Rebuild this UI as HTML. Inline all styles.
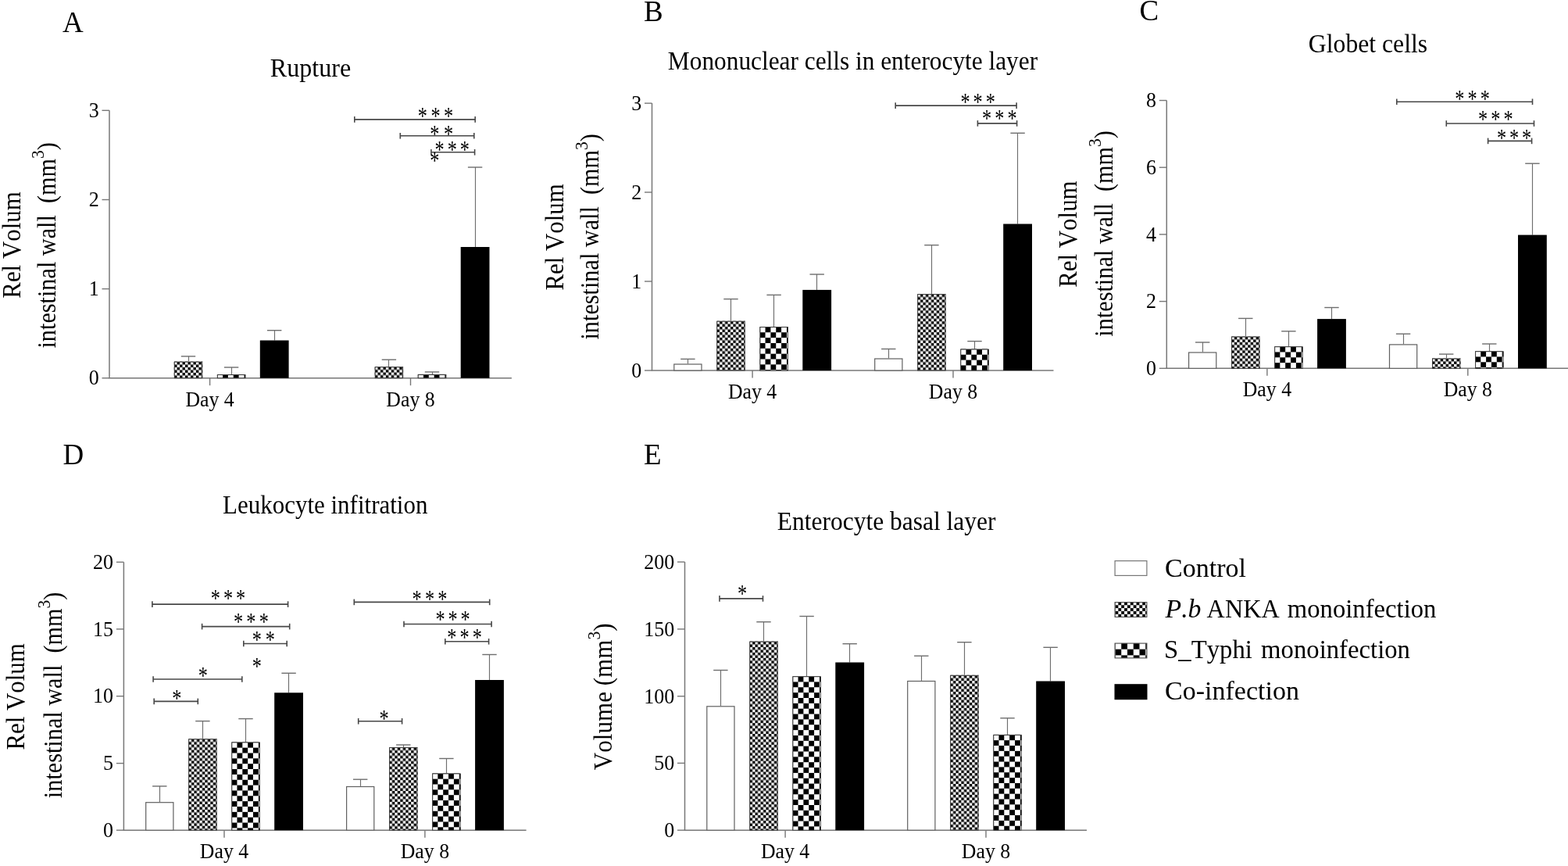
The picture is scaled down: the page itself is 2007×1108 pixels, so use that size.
<!DOCTYPE html>
<html><head><meta charset="utf-8"><title>Figure</title>
<style>html,body{margin:0;padding:0;background:#fff;}svg{display:block;}text{font-kerning:none;}</style>
</head><body>
<svg width="2007" height="1108" viewBox="0 0 2007 1108" font-family='"Liberation Serif", "Times New Roman", serif' fill="#000"><defs><pattern id="p1" patternUnits="userSpaceOnUse" x="223.10" y="463.00" width="6.940" height="6.940"><rect width="6.940" height="6.940" fill="#fff"/><rect x="3.470" width="3.470" height="3.470" fill="#000"/><rect y="3.470" width="3.470" height="3.470" fill="#000"/></pattern><pattern id="p2" patternUnits="userSpaceOnUse" x="278.20" y="479.40" width="13.700" height="13.700"><rect width="13.700" height="13.700" fill="#fff"/><rect x="6.850" width="6.850" height="6.850" fill="#000"/><rect y="6.850" width="6.850" height="6.850" fill="#000"/></pattern><pattern id="p3" patternUnits="userSpaceOnUse" x="480.00" y="469.60" width="6.940" height="6.940"><rect width="6.940" height="6.940" fill="#fff"/><rect x="3.470" width="3.470" height="3.470" fill="#000"/><rect y="3.470" width="3.470" height="3.470" fill="#000"/></pattern><pattern id="p4" patternUnits="userSpaceOnUse" x="535.10" y="479.30" width="13.700" height="13.700"><rect width="13.700" height="13.700" fill="#fff"/><rect x="6.850" width="6.850" height="6.850" fill="#000"/><rect y="6.850" width="6.850" height="6.850" fill="#000"/></pattern><pattern id="p5" patternUnits="userSpaceOnUse" x="917.60" y="411.10" width="6.940" height="6.940"><rect width="6.940" height="6.940" fill="#fff"/><rect x="3.470" width="3.470" height="3.470" fill="#000"/><rect y="3.470" width="3.470" height="3.470" fill="#000"/></pattern><pattern id="p6" patternUnits="userSpaceOnUse" x="972.70" y="418.40" width="13.700" height="13.700"><rect width="13.700" height="13.700" fill="#fff"/><rect x="6.850" width="6.850" height="6.850" fill="#000"/><rect y="6.850" width="6.850" height="6.850" fill="#000"/></pattern><pattern id="p7" patternUnits="userSpaceOnUse" x="1174.50" y="376.50" width="6.940" height="6.940"><rect width="6.940" height="6.940" fill="#fff"/><rect x="3.470" width="3.470" height="3.470" fill="#000"/><rect y="3.470" width="3.470" height="3.470" fill="#000"/></pattern><pattern id="p8" patternUnits="userSpaceOnUse" x="1229.60" y="446.90" width="13.700" height="13.700"><rect width="13.700" height="13.700" fill="#fff"/><rect x="6.850" width="6.850" height="6.850" fill="#000"/><rect y="6.850" width="6.850" height="6.850" fill="#000"/></pattern><pattern id="p9" patternUnits="userSpaceOnUse" x="1576.40" y="430.90" width="6.940" height="6.940"><rect width="6.940" height="6.940" fill="#fff"/><rect x="3.470" width="3.470" height="3.470" fill="#000"/><rect y="3.470" width="3.470" height="3.470" fill="#000"/></pattern><pattern id="p10" patternUnits="userSpaceOnUse" x="1631.50" y="443.60" width="13.700" height="13.700"><rect width="13.700" height="13.700" fill="#fff"/><rect x="6.850" width="6.850" height="6.850" fill="#000"/><rect y="6.850" width="6.850" height="6.850" fill="#000"/></pattern><pattern id="p11" patternUnits="userSpaceOnUse" x="1833.30" y="458.90" width="6.940" height="6.940"><rect width="6.940" height="6.940" fill="#fff"/><rect x="3.470" width="3.470" height="3.470" fill="#000"/><rect y="3.470" width="3.470" height="3.470" fill="#000"/></pattern><pattern id="p12" patternUnits="userSpaceOnUse" x="1888.40" y="449.60" width="13.700" height="13.700"><rect width="13.700" height="13.700" fill="#fff"/><rect x="6.850" width="6.850" height="6.850" fill="#000"/><rect y="6.850" width="6.850" height="6.850" fill="#000"/></pattern><pattern id="p13" patternUnits="userSpaceOnUse" x="241.50" y="945.70" width="6.940" height="6.940"><rect width="6.940" height="6.940" fill="#fff"/><rect x="3.470" width="3.470" height="3.470" fill="#000"/><rect y="3.470" width="3.470" height="3.470" fill="#000"/></pattern><pattern id="p14" patternUnits="userSpaceOnUse" x="296.60" y="949.80" width="13.700" height="13.700"><rect width="13.700" height="13.700" fill="#fff"/><rect x="6.850" width="6.850" height="6.850" fill="#000"/><rect y="6.850" width="6.850" height="6.850" fill="#000"/></pattern><pattern id="p15" patternUnits="userSpaceOnUse" x="498.40" y="956.50" width="6.940" height="6.940"><rect width="6.940" height="6.940" fill="#fff"/><rect x="3.470" width="3.470" height="3.470" fill="#000"/><rect y="3.470" width="3.470" height="3.470" fill="#000"/></pattern><pattern id="p16" patternUnits="userSpaceOnUse" x="553.50" y="989.80" width="13.700" height="13.700"><rect width="13.700" height="13.700" fill="#fff"/><rect x="6.850" width="6.850" height="6.850" fill="#000"/><rect y="6.850" width="6.850" height="6.850" fill="#000"/></pattern><pattern id="p17" patternUnits="userSpaceOnUse" x="959.60" y="821.00" width="6.940" height="6.940"><rect width="6.940" height="6.940" fill="#fff"/><rect x="3.470" width="3.470" height="3.470" fill="#000"/><rect y="3.470" width="3.470" height="3.470" fill="#000"/></pattern><pattern id="p18" patternUnits="userSpaceOnUse" x="1014.70" y="865.60" width="13.700" height="13.700"><rect width="13.700" height="13.700" fill="#fff"/><rect x="6.850" width="6.850" height="6.850" fill="#000"/><rect y="6.850" width="6.850" height="6.850" fill="#000"/></pattern><pattern id="p19" patternUnits="userSpaceOnUse" x="1216.50" y="864.20" width="6.940" height="6.940"><rect width="6.940" height="6.940" fill="#fff"/><rect x="3.470" width="3.470" height="3.470" fill="#000"/><rect y="3.470" width="3.470" height="3.470" fill="#000"/></pattern><pattern id="p20" patternUnits="userSpaceOnUse" x="1271.60" y="940.30" width="13.700" height="13.700"><rect width="13.700" height="13.700" fill="#fff"/><rect x="6.850" width="6.850" height="6.850" fill="#000"/><rect y="6.850" width="6.850" height="6.850" fill="#000"/></pattern><pattern id="p21" patternUnits="userSpaceOnUse" x="1427.50" y="770.40" width="7.720" height="7.720"><rect width="7.720" height="7.720" fill="#fff"/><rect x="3.860" width="3.860" height="3.860" fill="#000"/><rect y="3.860" width="3.860" height="3.860" fill="#000"/></pattern><pattern id="p22" patternUnits="userSpaceOnUse" x="1427.50" y="822.90" width="15.500" height="15.500"><rect width="15.500" height="15.500" fill="#fff"/><rect x="7.750" width="7.750" height="7.750" fill="#000"/><rect y="7.750" width="7.750" height="7.750" fill="#000"/></pattern></defs><rect width="2007" height="1108" fill="#fff"/><line x1="140.00" y1="141.30" x2="140.00" y2="483.70" stroke="#777" stroke-width="1.5"/>
<line x1="139.25" y1="483.70" x2="654.90" y2="483.70" stroke="#777" stroke-width="1.6"/>
<line x1="130.50" y1="483.70" x2="140.00" y2="483.70" stroke="#777" stroke-width="1.4"/>
<text transform="translate(126.70,492.40) scale(1,1.04)" font-size="26" text-anchor="end">0</text>
<line x1="130.50" y1="369.60" x2="140.00" y2="369.60" stroke="#777" stroke-width="1.4"/>
<text transform="translate(126.70,378.30) scale(1,1.04)" font-size="26" text-anchor="end">1</text>
<line x1="130.50" y1="255.50" x2="140.00" y2="255.50" stroke="#777" stroke-width="1.4"/>
<text transform="translate(126.70,264.20) scale(1,1.04)" font-size="26" text-anchor="end">2</text>
<line x1="130.50" y1="141.30" x2="140.00" y2="141.30" stroke="#777" stroke-width="1.4"/>
<text transform="translate(126.70,150.00) scale(1,1.04)" font-size="26" text-anchor="end">3</text>
<line x1="268.60" y1="483.70" x2="268.60" y2="493.20" stroke="#777" stroke-width="1.4"/>
<text transform="translate(268.60,519.70) scale(1,1.04)" font-size="25.8" text-anchor="middle">Day 4</text>
<line x1="525.50" y1="483.70" x2="525.50" y2="493.20" stroke="#777" stroke-width="1.4"/>
<text transform="translate(525.50,519.70) scale(1,1.04)" font-size="25.8" text-anchor="middle">Day 8</text>
<line x1="241.50" y1="455.90" x2="241.50" y2="462.60" stroke="#6e6e6e" stroke-width="1.15"/>
<line x1="231.80" y1="455.90" x2="250.20" y2="455.90" stroke="#6e6e6e" stroke-width="1.4"/>
<rect x="222.80" y="462.60" width="36.40" height="21.10" fill="url(#p1)"/>
<rect x="223.30" y="463.10" width="35.40" height="20.60" fill="none" stroke="#3a3a3a" stroke-width="1"/>
<line x1="296.50" y1="470.00" x2="296.50" y2="479.00" stroke="#6e6e6e" stroke-width="1.15"/>
<line x1="286.90" y1="470.00" x2="305.30" y2="470.00" stroke="#6e6e6e" stroke-width="1.4"/>
<rect x="277.90" y="479.00" width="36.40" height="4.70" fill="url(#p2)"/>
<rect x="278.40" y="479.50" width="35.40" height="4.20" fill="none" stroke="#3a3a3a" stroke-width="1"/>
<line x1="351.50" y1="422.70" x2="351.50" y2="435.50" stroke="#6e6e6e" stroke-width="1.15"/>
<line x1="342.00" y1="422.70" x2="360.40" y2="422.70" stroke="#6e6e6e" stroke-width="1.4"/>
<rect x="332.80" y="435.50" width="36.80" height="48.20" fill="#000"/>
<line x1="497.50" y1="460.20" x2="497.50" y2="469.20" stroke="#6e6e6e" stroke-width="1.15"/>
<line x1="488.70" y1="460.20" x2="507.10" y2="460.20" stroke="#6e6e6e" stroke-width="1.4"/>
<rect x="479.70" y="469.20" width="36.40" height="14.50" fill="url(#p3)"/>
<rect x="480.20" y="469.70" width="35.40" height="14.00" fill="none" stroke="#3a3a3a" stroke-width="1"/>
<line x1="553.50" y1="475.90" x2="553.50" y2="478.90" stroke="#6e6e6e" stroke-width="1.15"/>
<line x1="543.80" y1="475.90" x2="562.20" y2="475.90" stroke="#6e6e6e" stroke-width="1.4"/>
<rect x="534.80" y="478.90" width="36.40" height="4.80" fill="url(#p4)"/>
<rect x="535.30" y="479.40" width="35.40" height="4.30" fill="none" stroke="#3a3a3a" stroke-width="1"/>
<line x1="608.50" y1="214.00" x2="608.50" y2="316.00" stroke="#6e6e6e" stroke-width="1.15"/>
<line x1="598.90" y1="214.00" x2="617.30" y2="214.00" stroke="#6e6e6e" stroke-width="1.4"/>
<rect x="589.70" y="316.00" width="36.80" height="167.70" fill="#000"/>
<line x1="453.80" y1="152.90" x2="608.20" y2="152.90" stroke="#474747" stroke-width="1.6"/>
<line x1="453.80" y1="149.10" x2="453.80" y2="156.70" stroke="#474747" stroke-width="1.6"/>
<line x1="608.20" y1="149.10" x2="608.20" y2="156.70" stroke="#474747" stroke-width="1.6"/>
<text transform="translate(540.80,159.38) scale(0.9,1.16)" font-size="27" text-anchor="middle">*</text>
<text transform="translate(557.45,159.38) scale(0.9,1.16)" font-size="27" text-anchor="middle">*</text>
<text transform="translate(574.10,159.38) scale(0.9,1.16)" font-size="27" text-anchor="middle">*</text>
<line x1="512.30" y1="173.80" x2="606.80" y2="173.80" stroke="#474747" stroke-width="1.6"/>
<line x1="512.30" y1="170.00" x2="512.30" y2="177.60" stroke="#474747" stroke-width="1.6"/>
<line x1="606.80" y1="170.00" x2="606.80" y2="177.60" stroke="#474747" stroke-width="1.6"/>
<text transform="translate(556.40,182.38) scale(0.9,1.16)" font-size="27" text-anchor="middle">*</text>
<text transform="translate(574.10,182.38) scale(0.9,1.16)" font-size="27" text-anchor="middle">*</text>
<line x1="551.90" y1="194.80" x2="607.60" y2="194.80" stroke="#474747" stroke-width="1.6"/>
<line x1="551.90" y1="191.00" x2="551.90" y2="198.60" stroke="#474747" stroke-width="1.6"/>
<line x1="607.60" y1="191.00" x2="607.60" y2="198.60" stroke="#474747" stroke-width="1.6"/>
<text transform="translate(562.50,201.58) scale(0.9,1.16)" font-size="27" text-anchor="middle">*</text>
<text transform="translate(578.70,201.58) scale(0.9,1.16)" font-size="27" text-anchor="middle">*</text>
<text transform="translate(594.90,201.58) scale(0.9,1.16)" font-size="27" text-anchor="middle">*</text>
<text transform="translate(556.40,216.28) scale(0.9,1.16)" font-size="27" text-anchor="middle">*</text>
<line x1="834.50" y1="132.10" x2="834.50" y2="474.00" stroke="#777" stroke-width="1.5"/>
<line x1="833.75" y1="474.00" x2="1348.50" y2="474.00" stroke="#777" stroke-width="1.6"/>
<line x1="825.00" y1="474.00" x2="834.50" y2="474.00" stroke="#777" stroke-width="1.4"/>
<text transform="translate(821.20,482.70) scale(1,1.04)" font-size="26" text-anchor="end">0</text>
<line x1="825.00" y1="360.00" x2="834.50" y2="360.00" stroke="#777" stroke-width="1.4"/>
<text transform="translate(821.20,368.70) scale(1,1.04)" font-size="26" text-anchor="end">1</text>
<line x1="825.00" y1="246.00" x2="834.50" y2="246.00" stroke="#777" stroke-width="1.4"/>
<text transform="translate(821.20,254.70) scale(1,1.04)" font-size="26" text-anchor="end">2</text>
<line x1="825.00" y1="132.10" x2="834.50" y2="132.10" stroke="#777" stroke-width="1.4"/>
<text transform="translate(821.20,140.80) scale(1,1.04)" font-size="26" text-anchor="end">3</text>
<line x1="963.10" y1="474.00" x2="963.10" y2="483.50" stroke="#777" stroke-width="1.4"/>
<text transform="translate(963.10,509.50) scale(1,1.04)" font-size="25.8" text-anchor="middle">Day 4</text>
<line x1="1220.00" y1="474.00" x2="1220.00" y2="483.50" stroke="#777" stroke-width="1.4"/>
<text transform="translate(1220.00,509.50) scale(1,1.04)" font-size="25.8" text-anchor="middle">Day 8</text>
<line x1="880.50" y1="459.40" x2="880.50" y2="465.40" stroke="#6e6e6e" stroke-width="1.15"/>
<line x1="871.20" y1="459.40" x2="889.60" y2="459.40" stroke="#6e6e6e" stroke-width="1.4"/>
<rect x="862.80" y="466.00" width="35.20" height="8.00" fill="#fff" stroke="#606060" stroke-width="1.2"/>
<line x1="935.50" y1="382.60" x2="935.50" y2="410.70" stroke="#6e6e6e" stroke-width="1.15"/>
<line x1="926.30" y1="382.60" x2="944.70" y2="382.60" stroke="#6e6e6e" stroke-width="1.4"/>
<rect x="917.30" y="410.70" width="36.40" height="63.30" fill="url(#p5)"/>
<rect x="917.80" y="411.20" width="35.40" height="62.80" fill="none" stroke="#3a3a3a" stroke-width="1"/>
<line x1="990.50" y1="377.40" x2="990.50" y2="418.00" stroke="#6e6e6e" stroke-width="1.15"/>
<line x1="981.40" y1="377.40" x2="999.80" y2="377.40" stroke="#6e6e6e" stroke-width="1.4"/>
<rect x="972.40" y="418.00" width="36.40" height="56.00" fill="url(#p6)"/>
<rect x="972.90" y="418.50" width="35.40" height="55.50" fill="none" stroke="#3a3a3a" stroke-width="1"/>
<line x1="1045.50" y1="351.00" x2="1045.50" y2="370.90" stroke="#6e6e6e" stroke-width="1.15"/>
<line x1="1036.50" y1="351.00" x2="1054.90" y2="351.00" stroke="#6e6e6e" stroke-width="1.4"/>
<rect x="1027.30" y="370.90" width="36.80" height="103.10" fill="#000"/>
<line x1="1137.50" y1="446.50" x2="1137.50" y2="458.40" stroke="#6e6e6e" stroke-width="1.15"/>
<line x1="1128.10" y1="446.50" x2="1146.50" y2="446.50" stroke="#6e6e6e" stroke-width="1.4"/>
<rect x="1119.70" y="459.00" width="35.20" height="15.00" fill="#fff" stroke="#606060" stroke-width="1.2"/>
<line x1="1192.50" y1="313.60" x2="1192.50" y2="376.10" stroke="#6e6e6e" stroke-width="1.15"/>
<line x1="1183.20" y1="313.60" x2="1201.60" y2="313.60" stroke="#6e6e6e" stroke-width="1.4"/>
<rect x="1174.20" y="376.10" width="36.40" height="97.90" fill="url(#p7)"/>
<rect x="1174.70" y="376.60" width="35.40" height="97.40" fill="none" stroke="#3a3a3a" stroke-width="1"/>
<line x1="1247.50" y1="436.60" x2="1247.50" y2="446.50" stroke="#6e6e6e" stroke-width="1.15"/>
<line x1="1238.30" y1="436.60" x2="1256.70" y2="436.60" stroke="#6e6e6e" stroke-width="1.4"/>
<rect x="1229.30" y="446.50" width="36.40" height="27.50" fill="url(#p8)"/>
<rect x="1229.80" y="447.00" width="35.40" height="27.00" fill="none" stroke="#3a3a3a" stroke-width="1"/>
<line x1="1302.50" y1="170.30" x2="1302.50" y2="286.50" stroke="#6e6e6e" stroke-width="1.15"/>
<line x1="1293.40" y1="170.30" x2="1311.80" y2="170.30" stroke="#6e6e6e" stroke-width="1.4"/>
<rect x="1284.20" y="286.50" width="36.80" height="187.50" fill="#000"/>
<line x1="1146.20" y1="135.10" x2="1301.10" y2="135.10" stroke="#474747" stroke-width="1.6"/>
<line x1="1146.20" y1="131.30" x2="1146.20" y2="138.90" stroke="#474747" stroke-width="1.6"/>
<line x1="1301.10" y1="131.30" x2="1301.10" y2="138.90" stroke="#474747" stroke-width="1.6"/>
<text transform="translate(1235.60,140.98) scale(0.9,1.16)" font-size="27" text-anchor="middle">*</text>
<text transform="translate(1251.65,140.98) scale(0.9,1.16)" font-size="27" text-anchor="middle">*</text>
<text transform="translate(1267.70,140.98) scale(0.9,1.16)" font-size="27" text-anchor="middle">*</text>
<line x1="1251.40" y1="157.90" x2="1301.60" y2="157.90" stroke="#474747" stroke-width="1.6"/>
<line x1="1251.40" y1="154.10" x2="1251.40" y2="161.70" stroke="#474747" stroke-width="1.6"/>
<line x1="1301.60" y1="154.10" x2="1301.60" y2="161.70" stroke="#474747" stroke-width="1.6"/>
<text transform="translate(1263.00,162.18) scale(0.9,1.16)" font-size="27" text-anchor="middle">*</text>
<text transform="translate(1279.25,162.18) scale(0.9,1.16)" font-size="27" text-anchor="middle">*</text>
<text transform="translate(1295.50,162.18) scale(0.9,1.16)" font-size="27" text-anchor="middle">*</text>
<line x1="1493.30" y1="128.50" x2="1493.30" y2="471.30" stroke="#777" stroke-width="1.5"/>
<line x1="1492.55" y1="471.30" x2="2007.00" y2="471.30" stroke="#777" stroke-width="1.6"/>
<line x1="1483.80" y1="471.30" x2="1493.30" y2="471.30" stroke="#777" stroke-width="1.4"/>
<text transform="translate(1480.00,480.00) scale(1,1.04)" font-size="26" text-anchor="end">0</text>
<line x1="1483.80" y1="385.60" x2="1493.30" y2="385.60" stroke="#777" stroke-width="1.4"/>
<text transform="translate(1480.00,394.30) scale(1,1.04)" font-size="26" text-anchor="end">2</text>
<line x1="1483.80" y1="299.90" x2="1493.30" y2="299.90" stroke="#777" stroke-width="1.4"/>
<text transform="translate(1480.00,308.60) scale(1,1.04)" font-size="26" text-anchor="end">4</text>
<line x1="1483.80" y1="214.20" x2="1493.30" y2="214.20" stroke="#777" stroke-width="1.4"/>
<text transform="translate(1480.00,222.90) scale(1,1.04)" font-size="26" text-anchor="end">6</text>
<line x1="1483.80" y1="128.50" x2="1493.30" y2="128.50" stroke="#777" stroke-width="1.4"/>
<text transform="translate(1480.00,137.20) scale(1,1.04)" font-size="26" text-anchor="end">8</text>
<line x1="1621.90" y1="471.30" x2="1621.90" y2="480.80" stroke="#777" stroke-width="1.4"/>
<text transform="translate(1621.90,506.80) scale(1,1.04)" font-size="25.8" text-anchor="middle">Day 4</text>
<line x1="1878.80" y1="471.30" x2="1878.80" y2="480.80" stroke="#777" stroke-width="1.4"/>
<text transform="translate(1878.80,506.80) scale(1,1.04)" font-size="25.8" text-anchor="middle">Day 8</text>
<line x1="1539.50" y1="438.00" x2="1539.50" y2="450.40" stroke="#6e6e6e" stroke-width="1.15"/>
<line x1="1530.00" y1="438.00" x2="1548.40" y2="438.00" stroke="#6e6e6e" stroke-width="1.4"/>
<rect x="1521.60" y="451.00" width="35.20" height="20.30" fill="#fff" stroke="#606060" stroke-width="1.2"/>
<line x1="1594.50" y1="407.40" x2="1594.50" y2="430.50" stroke="#6e6e6e" stroke-width="1.15"/>
<line x1="1585.10" y1="407.40" x2="1603.50" y2="407.40" stroke="#6e6e6e" stroke-width="1.4"/>
<rect x="1576.10" y="430.50" width="36.40" height="40.80" fill="url(#p9)"/>
<rect x="1576.60" y="431.00" width="35.40" height="40.30" fill="none" stroke="#3a3a3a" stroke-width="1"/>
<line x1="1649.50" y1="423.80" x2="1649.50" y2="443.20" stroke="#6e6e6e" stroke-width="1.15"/>
<line x1="1640.20" y1="423.80" x2="1658.60" y2="423.80" stroke="#6e6e6e" stroke-width="1.4"/>
<rect x="1631.20" y="443.20" width="36.40" height="28.10" fill="url(#p10)"/>
<rect x="1631.70" y="443.70" width="35.40" height="27.60" fill="none" stroke="#3a3a3a" stroke-width="1"/>
<line x1="1704.50" y1="393.50" x2="1704.50" y2="408.10" stroke="#6e6e6e" stroke-width="1.15"/>
<line x1="1695.30" y1="393.50" x2="1713.70" y2="393.50" stroke="#6e6e6e" stroke-width="1.4"/>
<rect x="1686.10" y="408.10" width="36.80" height="63.20" fill="#000"/>
<line x1="1796.50" y1="427.20" x2="1796.50" y2="440.30" stroke="#6e6e6e" stroke-width="1.15"/>
<line x1="1786.90" y1="427.20" x2="1805.30" y2="427.20" stroke="#6e6e6e" stroke-width="1.4"/>
<rect x="1778.50" y="440.90" width="35.20" height="30.40" fill="#fff" stroke="#606060" stroke-width="1.2"/>
<line x1="1851.50" y1="453.10" x2="1851.50" y2="458.50" stroke="#6e6e6e" stroke-width="1.15"/>
<line x1="1842.00" y1="453.10" x2="1860.40" y2="453.10" stroke="#6e6e6e" stroke-width="1.4"/>
<rect x="1833.00" y="458.50" width="36.40" height="12.80" fill="url(#p11)"/>
<rect x="1833.50" y="459.00" width="35.40" height="12.30" fill="none" stroke="#3a3a3a" stroke-width="1"/>
<line x1="1906.50" y1="440.00" x2="1906.50" y2="449.20" stroke="#6e6e6e" stroke-width="1.15"/>
<line x1="1897.10" y1="440.00" x2="1915.50" y2="440.00" stroke="#6e6e6e" stroke-width="1.4"/>
<rect x="1888.10" y="449.20" width="36.40" height="22.10" fill="url(#p12)"/>
<rect x="1888.60" y="449.70" width="35.40" height="21.60" fill="none" stroke="#3a3a3a" stroke-width="1"/>
<line x1="1961.50" y1="209.20" x2="1961.50" y2="300.60" stroke="#6e6e6e" stroke-width="1.15"/>
<line x1="1952.20" y1="209.20" x2="1970.60" y2="209.20" stroke="#6e6e6e" stroke-width="1.4"/>
<rect x="1943.00" y="300.60" width="36.80" height="170.70" fill="#000"/>
<line x1="1787.80" y1="130.20" x2="1961.50" y2="130.20" stroke="#474747" stroke-width="1.6"/>
<line x1="1787.80" y1="126.40" x2="1787.80" y2="134.00" stroke="#474747" stroke-width="1.6"/>
<line x1="1961.50" y1="126.40" x2="1961.50" y2="134.00" stroke="#474747" stroke-width="1.6"/>
<text transform="translate(1868.40,136.98) scale(0.9,1.16)" font-size="27" text-anchor="middle">*</text>
<text transform="translate(1884.65,136.98) scale(0.9,1.16)" font-size="27" text-anchor="middle">*</text>
<text transform="translate(1900.90,136.98) scale(0.9,1.16)" font-size="27" text-anchor="middle">*</text>
<line x1="1851.30" y1="158.00" x2="1963.50" y2="158.00" stroke="#474747" stroke-width="1.6"/>
<line x1="1851.30" y1="154.20" x2="1851.30" y2="161.80" stroke="#474747" stroke-width="1.6"/>
<line x1="1963.50" y1="154.20" x2="1963.50" y2="161.80" stroke="#474747" stroke-width="1.6"/>
<text transform="translate(1898.10,162.78) scale(0.9,1.16)" font-size="27" text-anchor="middle">*</text>
<text transform="translate(1914.35,162.78) scale(0.9,1.16)" font-size="27" text-anchor="middle">*</text>
<text transform="translate(1930.60,162.78) scale(0.9,1.16)" font-size="27" text-anchor="middle">*</text>
<line x1="1904.60" y1="180.40" x2="1960.60" y2="180.40" stroke="#474747" stroke-width="1.6"/>
<line x1="1904.60" y1="176.60" x2="1904.60" y2="184.20" stroke="#474747" stroke-width="1.6"/>
<line x1="1960.60" y1="176.60" x2="1960.60" y2="184.20" stroke="#474747" stroke-width="1.6"/>
<text transform="translate(1922.00,186.58) scale(0.9,1.16)" font-size="27" text-anchor="middle">*</text>
<text transform="translate(1938.05,186.58) scale(0.9,1.16)" font-size="27" text-anchor="middle">*</text>
<text transform="translate(1954.10,186.58) scale(0.9,1.16)" font-size="27" text-anchor="middle">*</text>
<line x1="158.40" y1="719.20" x2="158.40" y2="1062.20" stroke="#777" stroke-width="1.5"/>
<line x1="157.65" y1="1062.20" x2="673.60" y2="1062.20" stroke="#777" stroke-width="1.6"/>
<line x1="148.90" y1="1062.20" x2="158.40" y2="1062.20" stroke="#777" stroke-width="1.4"/>
<text transform="translate(145.10,1070.90) scale(1,1.04)" font-size="26" text-anchor="end">0</text>
<line x1="148.90" y1="976.60" x2="158.40" y2="976.60" stroke="#777" stroke-width="1.4"/>
<text transform="translate(145.10,985.30) scale(1,1.04)" font-size="26" text-anchor="end">5</text>
<line x1="148.90" y1="890.70" x2="158.40" y2="890.70" stroke="#777" stroke-width="1.4"/>
<text transform="translate(145.10,899.40) scale(1,1.04)" font-size="26" text-anchor="end">10</text>
<line x1="148.90" y1="804.90" x2="158.40" y2="804.90" stroke="#777" stroke-width="1.4"/>
<text transform="translate(145.10,813.60) scale(1,1.04)" font-size="26" text-anchor="end">15</text>
<line x1="148.90" y1="719.20" x2="158.40" y2="719.20" stroke="#777" stroke-width="1.4"/>
<text transform="translate(145.10,727.90) scale(1,1.04)" font-size="26" text-anchor="end">20</text>
<line x1="287.00" y1="1062.20" x2="287.00" y2="1071.70" stroke="#777" stroke-width="1.4"/>
<text transform="translate(287.00,1097.80) scale(1,1.04)" font-size="25.8" text-anchor="middle">Day 4</text>
<line x1="543.90" y1="1062.20" x2="543.90" y2="1071.70" stroke="#777" stroke-width="1.4"/>
<text transform="translate(543.90,1097.80) scale(1,1.04)" font-size="25.8" text-anchor="middle">Day 8</text>
<line x1="204.50" y1="1005.90" x2="204.50" y2="1026.10" stroke="#6e6e6e" stroke-width="1.15"/>
<line x1="195.10" y1="1005.90" x2="213.50" y2="1005.90" stroke="#6e6e6e" stroke-width="1.4"/>
<rect x="186.70" y="1026.70" width="35.20" height="35.50" fill="#fff" stroke="#606060" stroke-width="1.2"/>
<line x1="259.50" y1="922.60" x2="259.50" y2="945.30" stroke="#6e6e6e" stroke-width="1.15"/>
<line x1="250.20" y1="922.60" x2="268.60" y2="922.60" stroke="#6e6e6e" stroke-width="1.4"/>
<rect x="241.20" y="945.30" width="36.40" height="116.90" fill="url(#p13)"/>
<rect x="241.70" y="945.80" width="35.40" height="116.40" fill="none" stroke="#3a3a3a" stroke-width="1"/>
<line x1="314.50" y1="919.60" x2="314.50" y2="949.40" stroke="#6e6e6e" stroke-width="1.15"/>
<line x1="305.30" y1="919.60" x2="323.70" y2="919.60" stroke="#6e6e6e" stroke-width="1.4"/>
<rect x="296.30" y="949.40" width="36.40" height="112.80" fill="url(#p14)"/>
<rect x="296.80" y="949.90" width="35.40" height="112.30" fill="none" stroke="#3a3a3a" stroke-width="1"/>
<line x1="369.50" y1="861.30" x2="369.50" y2="886.30" stroke="#6e6e6e" stroke-width="1.15"/>
<line x1="360.40" y1="861.30" x2="378.80" y2="861.30" stroke="#6e6e6e" stroke-width="1.4"/>
<rect x="351.20" y="886.30" width="36.80" height="175.90" fill="#000"/>
<line x1="461.50" y1="997.20" x2="461.50" y2="1005.90" stroke="#6e6e6e" stroke-width="1.15"/>
<line x1="452.00" y1="997.20" x2="470.40" y2="997.20" stroke="#6e6e6e" stroke-width="1.4"/>
<rect x="443.60" y="1006.50" width="35.20" height="55.70" fill="#fff" stroke="#606060" stroke-width="1.2"/>
<line x1="516.50" y1="953.00" x2="516.50" y2="956.10" stroke="#6e6e6e" stroke-width="1.15"/>
<line x1="507.10" y1="953.00" x2="525.50" y2="953.00" stroke="#6e6e6e" stroke-width="1.4"/>
<rect x="498.10" y="956.10" width="36.40" height="106.10" fill="url(#p15)"/>
<rect x="498.60" y="956.60" width="35.40" height="105.60" fill="none" stroke="#3a3a3a" stroke-width="1"/>
<line x1="571.50" y1="970.50" x2="571.50" y2="989.40" stroke="#6e6e6e" stroke-width="1.15"/>
<line x1="562.20" y1="970.50" x2="580.60" y2="970.50" stroke="#6e6e6e" stroke-width="1.4"/>
<rect x="553.20" y="989.40" width="36.40" height="72.80" fill="url(#p16)"/>
<rect x="553.70" y="989.90" width="35.40" height="72.30" fill="none" stroke="#3a3a3a" stroke-width="1"/>
<line x1="626.50" y1="837.50" x2="626.50" y2="870.00" stroke="#6e6e6e" stroke-width="1.15"/>
<line x1="617.30" y1="837.50" x2="635.70" y2="837.50" stroke="#6e6e6e" stroke-width="1.4"/>
<rect x="608.10" y="870.00" width="36.80" height="192.20" fill="#000"/>
<line x1="194.90" y1="773.10" x2="368.60" y2="773.10" stroke="#474747" stroke-width="1.6"/>
<line x1="194.90" y1="769.30" x2="194.90" y2="776.90" stroke="#474747" stroke-width="1.6"/>
<line x1="368.60" y1="769.30" x2="368.60" y2="776.90" stroke="#474747" stroke-width="1.6"/>
<text transform="translate(275.90,776.08) scale(0.9,1.16)" font-size="27" text-anchor="middle">*</text>
<text transform="translate(291.95,776.08) scale(0.9,1.16)" font-size="27" text-anchor="middle">*</text>
<text transform="translate(308.00,776.08) scale(0.9,1.16)" font-size="27" text-anchor="middle">*</text>
<line x1="258.60" y1="801.60" x2="370.70" y2="801.60" stroke="#474747" stroke-width="1.6"/>
<line x1="258.60" y1="797.80" x2="258.60" y2="805.40" stroke="#474747" stroke-width="1.6"/>
<line x1="370.70" y1="797.80" x2="370.70" y2="805.40" stroke="#474747" stroke-width="1.6"/>
<text transform="translate(305.10,805.88) scale(0.9,1.16)" font-size="27" text-anchor="middle">*</text>
<text transform="translate(321.40,805.88) scale(0.9,1.16)" font-size="27" text-anchor="middle">*</text>
<text transform="translate(337.70,805.88) scale(0.9,1.16)" font-size="27" text-anchor="middle">*</text>
<line x1="311.80" y1="823.50" x2="367.20" y2="823.50" stroke="#474747" stroke-width="1.6"/>
<line x1="311.80" y1="819.70" x2="311.80" y2="827.30" stroke="#474747" stroke-width="1.6"/>
<line x1="367.20" y1="819.70" x2="367.20" y2="827.30" stroke="#474747" stroke-width="1.6"/>
<text transform="translate(328.70,829.48) scale(0.9,1.16)" font-size="27" text-anchor="middle">*</text>
<text transform="translate(345.70,829.48) scale(0.9,1.16)" font-size="27" text-anchor="middle">*</text>
<line x1="196.10" y1="869.00" x2="309.80" y2="869.00" stroke="#474747" stroke-width="1.6"/>
<line x1="196.10" y1="865.20" x2="196.10" y2="872.80" stroke="#474747" stroke-width="1.6"/>
<line x1="309.80" y1="865.20" x2="309.80" y2="872.80" stroke="#474747" stroke-width="1.6"/>
<text transform="translate(259.70,875.28) scale(0.9,1.16)" font-size="27" text-anchor="middle">*</text>
<line x1="197.20" y1="897.40" x2="253.30" y2="897.40" stroke="#474747" stroke-width="1.6"/>
<line x1="197.20" y1="893.60" x2="197.20" y2="901.20" stroke="#474747" stroke-width="1.6"/>
<line x1="253.30" y1="893.60" x2="253.30" y2="901.20" stroke="#474747" stroke-width="1.6"/>
<text transform="translate(226.30,904.48) scale(0.9,1.16)" font-size="27" text-anchor="middle">*</text>
<line x1="453.30" y1="770.40" x2="626.70" y2="770.40" stroke="#474747" stroke-width="1.6"/>
<line x1="453.30" y1="766.60" x2="453.30" y2="774.20" stroke="#474747" stroke-width="1.6"/>
<line x1="626.70" y1="766.60" x2="626.70" y2="774.20" stroke="#474747" stroke-width="1.6"/>
<text transform="translate(533.60,776.78) scale(0.9,1.16)" font-size="27" text-anchor="middle">*</text>
<text transform="translate(549.95,776.78) scale(0.9,1.16)" font-size="27" text-anchor="middle">*</text>
<text transform="translate(566.30,776.78) scale(0.9,1.16)" font-size="27" text-anchor="middle">*</text>
<line x1="517.00" y1="798.50" x2="629.10" y2="798.50" stroke="#474747" stroke-width="1.6"/>
<line x1="517.00" y1="794.70" x2="517.00" y2="802.30" stroke="#474747" stroke-width="1.6"/>
<line x1="629.10" y1="794.70" x2="629.10" y2="802.30" stroke="#474747" stroke-width="1.6"/>
<text transform="translate(563.50,803.08) scale(0.9,1.16)" font-size="27" text-anchor="middle">*</text>
<text transform="translate(579.55,803.08) scale(0.9,1.16)" font-size="27" text-anchor="middle">*</text>
<text transform="translate(595.60,803.08) scale(0.9,1.16)" font-size="27" text-anchor="middle">*</text>
<line x1="569.80" y1="820.80" x2="625.60" y2="820.80" stroke="#474747" stroke-width="1.6"/>
<line x1="569.80" y1="817.00" x2="569.80" y2="824.60" stroke="#474747" stroke-width="1.6"/>
<line x1="625.60" y1="817.00" x2="625.60" y2="824.60" stroke="#474747" stroke-width="1.6"/>
<text transform="translate(578.30,825.88) scale(0.9,1.16)" font-size="27" text-anchor="middle">*</text>
<text transform="translate(594.50,825.88) scale(0.9,1.16)" font-size="27" text-anchor="middle">*</text>
<text transform="translate(610.70,825.88) scale(0.9,1.16)" font-size="27" text-anchor="middle">*</text>
<line x1="458.70" y1="922.80" x2="514.60" y2="922.80" stroke="#474747" stroke-width="1.6"/>
<line x1="458.70" y1="919.00" x2="458.70" y2="926.60" stroke="#474747" stroke-width="1.6"/>
<line x1="514.60" y1="919.00" x2="514.60" y2="926.60" stroke="#474747" stroke-width="1.6"/>
<text transform="translate(491.50,930.48) scale(0.9,1.16)" font-size="27" text-anchor="middle">*</text>
<text transform="translate(328.70,862.78) scale(0.9,1.16)" font-size="27" text-anchor="middle">*</text>
<line x1="876.50" y1="719.00" x2="876.50" y2="1062.20" stroke="#777" stroke-width="1.5"/>
<line x1="875.75" y1="1062.20" x2="1391.00" y2="1062.20" stroke="#777" stroke-width="1.6"/>
<line x1="867.00" y1="1062.20" x2="876.50" y2="1062.20" stroke="#777" stroke-width="1.4"/>
<text transform="translate(863.20,1070.90) scale(1,1.04)" font-size="26" text-anchor="end">0</text>
<line x1="867.00" y1="976.40" x2="876.50" y2="976.40" stroke="#777" stroke-width="1.4"/>
<text transform="translate(863.20,985.10) scale(1,1.04)" font-size="26" text-anchor="end">50</text>
<line x1="867.00" y1="890.80" x2="876.50" y2="890.80" stroke="#777" stroke-width="1.4"/>
<text transform="translate(863.20,899.50) scale(1,1.04)" font-size="26" text-anchor="end">100</text>
<line x1="867.00" y1="804.90" x2="876.50" y2="804.90" stroke="#777" stroke-width="1.4"/>
<text transform="translate(863.20,813.60) scale(1,1.04)" font-size="26" text-anchor="end">150</text>
<line x1="867.00" y1="719.00" x2="876.50" y2="719.00" stroke="#777" stroke-width="1.4"/>
<text transform="translate(863.20,727.70) scale(1,1.04)" font-size="26" text-anchor="end">200</text>
<line x1="1005.10" y1="1062.20" x2="1005.10" y2="1071.70" stroke="#777" stroke-width="1.4"/>
<text transform="translate(1005.10,1097.80) scale(1,1.04)" font-size="25.8" text-anchor="middle">Day 4</text>
<line x1="1262.00" y1="1062.20" x2="1262.00" y2="1071.70" stroke="#777" stroke-width="1.4"/>
<text transform="translate(1262.00,1097.80) scale(1,1.04)" font-size="25.8" text-anchor="middle">Day 8</text>
<line x1="922.50" y1="857.50" x2="922.50" y2="903.20" stroke="#6e6e6e" stroke-width="1.15"/>
<line x1="913.20" y1="857.50" x2="931.60" y2="857.50" stroke="#6e6e6e" stroke-width="1.4"/>
<rect x="904.80" y="903.80" width="35.20" height="158.40" fill="#fff" stroke="#606060" stroke-width="1.2"/>
<line x1="977.50" y1="795.70" x2="977.50" y2="820.60" stroke="#6e6e6e" stroke-width="1.15"/>
<line x1="968.30" y1="795.70" x2="986.70" y2="795.70" stroke="#6e6e6e" stroke-width="1.4"/>
<rect x="959.30" y="820.60" width="36.40" height="241.60" fill="url(#p17)"/>
<rect x="959.80" y="821.10" width="35.40" height="241.10" fill="none" stroke="#3a3a3a" stroke-width="1"/>
<line x1="1032.50" y1="788.50" x2="1032.50" y2="865.20" stroke="#6e6e6e" stroke-width="1.15"/>
<line x1="1023.40" y1="788.50" x2="1041.80" y2="788.50" stroke="#6e6e6e" stroke-width="1.4"/>
<rect x="1014.40" y="865.20" width="36.40" height="197.00" fill="url(#p18)"/>
<rect x="1014.90" y="865.70" width="35.40" height="196.50" fill="none" stroke="#3a3a3a" stroke-width="1"/>
<line x1="1087.50" y1="823.70" x2="1087.50" y2="847.50" stroke="#6e6e6e" stroke-width="1.15"/>
<line x1="1078.50" y1="823.70" x2="1096.90" y2="823.70" stroke="#6e6e6e" stroke-width="1.4"/>
<rect x="1069.30" y="847.50" width="36.80" height="214.70" fill="#000"/>
<line x1="1179.50" y1="839.20" x2="1179.50" y2="870.90" stroke="#6e6e6e" stroke-width="1.15"/>
<line x1="1170.10" y1="839.20" x2="1188.50" y2="839.20" stroke="#6e6e6e" stroke-width="1.4"/>
<rect x="1161.70" y="871.50" width="35.20" height="190.70" fill="#fff" stroke="#606060" stroke-width="1.2"/>
<line x1="1234.50" y1="821.70" x2="1234.50" y2="863.80" stroke="#6e6e6e" stroke-width="1.15"/>
<line x1="1225.20" y1="821.70" x2="1243.60" y2="821.70" stroke="#6e6e6e" stroke-width="1.4"/>
<rect x="1216.20" y="863.80" width="36.40" height="198.40" fill="url(#p19)"/>
<rect x="1216.70" y="864.30" width="35.40" height="197.90" fill="none" stroke="#3a3a3a" stroke-width="1"/>
<line x1="1289.50" y1="918.80" x2="1289.50" y2="939.90" stroke="#6e6e6e" stroke-width="1.15"/>
<line x1="1280.30" y1="918.80" x2="1298.70" y2="918.80" stroke="#6e6e6e" stroke-width="1.4"/>
<rect x="1271.30" y="939.90" width="36.40" height="122.30" fill="url(#p20)"/>
<rect x="1271.80" y="940.40" width="35.40" height="121.80" fill="none" stroke="#3a3a3a" stroke-width="1"/>
<line x1="1344.50" y1="828.30" x2="1344.50" y2="871.50" stroke="#6e6e6e" stroke-width="1.15"/>
<line x1="1335.40" y1="828.30" x2="1353.80" y2="828.30" stroke="#6e6e6e" stroke-width="1.4"/>
<rect x="1326.20" y="871.50" width="36.80" height="190.70" fill="#000"/>
<line x1="921.00" y1="765.90" x2="976.50" y2="765.90" stroke="#474747" stroke-width="1.6"/>
<line x1="921.00" y1="762.10" x2="921.00" y2="769.70" stroke="#474747" stroke-width="1.6"/>
<line x1="976.50" y1="762.10" x2="976.50" y2="769.70" stroke="#474747" stroke-width="1.6"/>
<text transform="translate(950.00,770.08) scale(0.9,1.16)" font-size="27" text-anchor="middle">*</text>
<text transform="translate(80.00,40.80) scale(1,1.04)" font-size="37" text-anchor="start">A</text>
<text transform="translate(824.00,26.90) scale(1,1.04)" font-size="37" text-anchor="start">B</text>
<text transform="translate(1458.50,26.30) scale(1,1.04)" font-size="37" text-anchor="start">C</text>
<text transform="translate(80.50,594.20) scale(1,1.04)" font-size="37" text-anchor="start">D</text>
<text transform="translate(824.00,594.20) scale(1,1.04)" font-size="37" text-anchor="start">E</text>
<text transform="translate(397.50,98.30) scale(1,1.08)" font-size="32.1" text-anchor="middle">Rupture</text>
<text transform="translate(1091.50,88.80) scale(1,1.08)" font-size="31.35" text-anchor="middle">Mononuclear cells in enterocyte layer</text>
<text transform="translate(1751.00,67.00) scale(1,1.08)" font-size="31.7" text-anchor="middle">Globet cells</text>
<text transform="translate(416.20,656.90) scale(1,1.08)" font-size="31.0" text-anchor="middle">Leukocyte infitration</text>
<text transform="translate(1134.60,677.80) scale(1,1.08)" font-size="31.5" text-anchor="middle">Enterocyte basal layer</text>
<text transform="translate(25.60,313.50) rotate(-90) scale(1,1.09)" font-size="30.9" text-anchor="middle">Rel Volum</text>
<text transform="translate(71.00,313.80) rotate(-90) scale(1,1.1)" font-size="30.25" text-anchor="middle">intestinal wall &#160;(mm<tspan dy="-13.2" font-size="21.5">3</tspan><tspan dy="13.2">)</tspan></text>
<text transform="translate(720.50,303.40) rotate(-90) scale(1,1.09)" font-size="30.9" text-anchor="middle">Rel Volum</text>
<text transform="translate(766.10,302.80) rotate(-90) scale(1,1.1)" font-size="30.25" text-anchor="middle">intestinal wall &#160;(mm<tspan dy="-13.2" font-size="21.5">3</tspan><tspan dy="13.2">)</tspan></text>
<text transform="translate(1378.00,299.60) rotate(-90) scale(1,1.09)" font-size="30.9" text-anchor="middle">Rel Volum</text>
<text transform="translate(1424.00,298.90) rotate(-90) scale(1,1.1)" font-size="30.25" text-anchor="middle">intestinal wall &#160;(mm<tspan dy="-13.2" font-size="21.5">3</tspan><tspan dy="13.2">)</tspan></text>
<text transform="translate(31.30,891.40) rotate(-90) scale(1,1.09)" font-size="30.9" text-anchor="middle">Rel Volum</text>
<text transform="translate(78.50,889.40) rotate(-90) scale(1,1.1)" font-size="30.25" text-anchor="middle">intestinal wall &#160;(mm<tspan dy="-13.2" font-size="21.5">3</tspan><tspan dy="13.2">)</tspan></text>
<text transform="translate(782.60,891.30) rotate(-90) scale(1,1.09)" font-size="31.1" text-anchor="middle">Volume (mm<tspan dy="-13.2" font-size="21.5">3</tspan><tspan dy="13.2">)</tspan></text>
<rect x="1427.1" y="717.6" width="40.8" height="18.8" fill="#fff" stroke="#777" stroke-width="1.2"/>
<text transform="translate(1491.00,738.1) scale(1,1.01)" font-size="33.8" textLength="104.00" lengthAdjust="spacingAndGlyphs">Control</text>
<rect x="1427.1" y="770.6" width="40.8" height="18.8" fill="url(#p21)" stroke="#4a4a4a" stroke-width="1.1"/>
<text transform="translate(1491.50,790.4) scale(1,1.01)" font-size="33.8" font-style="italic">P.b</text>
<text transform="translate(1544.60,790.4) scale(1,1.01)" font-size="33.8" textLength="93.20" lengthAdjust="spacingAndGlyphs">ANKA</text>
<text transform="translate(1647.80,790.4) scale(1,1.01)" font-size="33.8" textLength="190.60" lengthAdjust="spacingAndGlyphs">monoinfection</text>
<rect x="1427.1" y="823.1" width="40.8" height="18.8" fill="url(#p22)" stroke="#4a4a4a" stroke-width="1.1"/>
<text transform="translate(1490.10,842.4) scale(1,1.01)" font-size="33.8" textLength="112.80" lengthAdjust="spacingAndGlyphs">S_Typhi</text>
<text transform="translate(1614.10,842.4) scale(1,1.01)" font-size="33.8" textLength="190.90" lengthAdjust="spacingAndGlyphs">monoinfection</text>
<rect x="1426.5" y="875.2" width="42" height="20" fill="#000"/>
<text transform="translate(1491.00,894.7) scale(1,1.01)" font-size="33.8" textLength="171.90" lengthAdjust="spacingAndGlyphs">Co-infection</text></svg>
</body></html>
